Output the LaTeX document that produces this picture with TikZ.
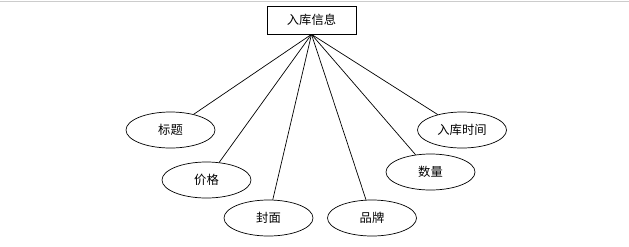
\documentclass[tikz,border=0pt]{standalone}
\usepackage{fontspec}
\newfontfamily\cjk{Noto Sans CJK SC}
\usetikzlibrary{positioning,shapes.geometric}
\tikzset{
    entity/.style={
        rectangle,
        draw,
        minimum width=2.67cm,
        minimum height=0.84cm,
        inner sep=0pt,
        font=\cjk\fontsize{10.5}{12}\selectfont
    },
    attr/.style={
        ellipse,
        draw,
        minimum width=2.67cm,
        minimum height=1.08cm,
        inner sep=0pt,
        font=\cjk\fontsize{10.5}{12}\selectfont
    },
    link/.style={
        -,
        line width=0.6pt
    }
}

\begin{document}
\begin{tikzpicture}[x=0.03cm, y=-0.03cm, line width=0.6pt]
    \useasboundingbox (0,0) rectangle (629,246);
    \draw[gray!40, line width=0.8pt] (0,1) -- (629,1);

    \node[entity] (info) at (311.5,20) {入库信息};

    \node[attr] (title) at (170.5,130) {标题};
    \node[attr] (price) at (206.5,180) {价格};
    \node[attr] (cover) at (268.5,218) {封面};
    \node[attr] (brand) at (372,218) {品牌};
    \node[attr] (qty) at (430.5,172) {数量};
    \node[attr] (time) at (462,130) {入库时间};

    % every attribute hangs from the bottom of the entity box
    \foreach \a in {title,price,cover,brand,qty,time}
        \draw[link] (info.south) -- (\a);
\end{tikzpicture}
\end{document}
